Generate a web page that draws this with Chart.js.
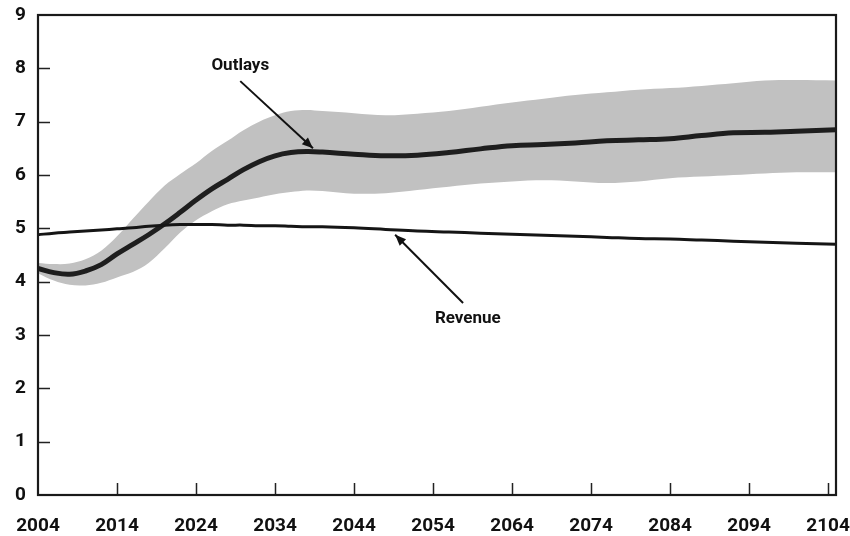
<!DOCTYPE html>
<html><head><meta charset="utf-8">
<script src="https://cdn.jsdelivr.net/npm/chart.js@4/dist/chart.umd.min.js"></script>
<style>html,body{margin:0;padding:0;background:#fff;}#wrap{width:850px;height:536px;}</style>
</head><body><div id="wrap"><canvas id="c" width="850" height="536"></canvas></div>
<script>
const years        = [2004,2006,2008,2010,2012,2014,2016,2018,2020,2022,2024,2026,2028,2030,2032,2034,2036,2038,2040,2044,2048,2052,2056,2060,2064,2068,2072,2076,2080,2084,2088,2092,2096,2100,2105];
const outlays      = [4.25,4.17,4.14,4.20,4.32,4.52,4.70,4.88,5.08,5.30,5.53,5.74,5.92,6.10,6.25,6.36,6.42,6.44,6.43,6.39,6.36,6.37,6.42,6.49,6.55,6.57,6.60,6.64,6.66,6.68,6.74,6.79,6.80,6.82,6.85];
const outlaysHigh  = [4.35,4.33,4.34,4.42,4.58,4.85,5.18,5.50,5.80,6.02,6.22,6.45,6.64,6.84,7.00,7.12,7.20,7.22,7.20,7.16,7.12,7.15,7.20,7.28,7.36,7.43,7.50,7.55,7.60,7.63,7.67,7.72,7.77,7.78,7.77];
const outlaysLow   = [4.16,4.02,3.94,3.93,3.98,4.08,4.18,4.35,4.62,4.92,5.15,5.32,5.45,5.52,5.58,5.64,5.68,5.71,5.70,5.65,5.66,5.72,5.78,5.84,5.88,5.90,5.88,5.85,5.88,5.94,5.97,6.00,6.03,6.05,6.05];
const revenue      = [4.88,4.91,4.93,4.95,4.97,4.99,5.01,5.04,5.06,5.07,5.07,5.07,5.06,5.06,5.05,5.05,5.04,5.03,5.03,5.01,4.98,4.95,4.93,4.91,4.89,4.87,4.85,4.83,4.81,4.80,4.78,4.76,4.74,4.72,4.70];
const xTicks = [2004,2014,2024,2034,2044,2054,2064,2074,2084,2094,2104];
const yTicks = [0,1,2,3,4,5,6,7,8,9];
const seriesNames = ['Outlays','Revenue'];
// annotation anchors in data units [year, value]
const outlaysNote = {text: seriesNames[0], label: [2029.6, 8.04], from: [2029.6, 7.76], to: [2038.8, 6.50]};
const revenueNote = {text: seriesNames[1], label: [2058.4, 3.30], from: [2057.8, 3.60], to: [2049.2, 4.88]};

const pts = arr => years.map((y, i) => ({x: y, y: arr[i]}));
const FONT = 'Roboto, "Liberation Sans", sans-serif';

const decor = {
  id: 'decor',
  afterDraw(chart) {
    const ctx = chart.ctx, a = chart.chartArea;
    const xs = chart.scales.x, ys = chart.scales.y;
    ctx.save();
    ctx.strokeStyle = '#222';
    ctx.lineWidth = 1.5;
    ctx.beginPath();
    yTicks.forEach(v => { if (v > 0 && v < 9) { const p = Math.round(ys.getPixelForValue(v)) + 0.5; ctx.moveTo(a.left, p); ctx.lineTo(a.left + 12, p); } });
    xTicks.forEach(v => { if (v > 2004) { const p = Math.round(xs.getPixelForValue(v)) + 0.5; ctx.moveTo(p, a.bottom); ctx.lineTo(p, a.bottom - 12); } });
    ctx.stroke();
    ctx.lineWidth = 2.2;
    ctx.strokeStyle = '#1a1a1a';
    ctx.strokeRect(a.left, a.top, a.right - a.left, a.bottom - a.top);
    [outlaysNote, revenueNote].forEach(n => {
      const lx = xs.getPixelForValue(n.label[0]), ly = ys.getPixelForValue(n.label[1]);
      ctx.fillStyle = '#111';
      ctx.font = 'bold 17px ' + FONT;
      ctx.textAlign = 'center';
      ctx.textBaseline = 'middle';
      ctx.fillText(n.text, lx, ly);
      const x1 = xs.getPixelForValue(n.from[0]), y1 = ys.getPixelForValue(n.from[1]);
      const x2 = xs.getPixelForValue(n.to[0]), y2 = ys.getPixelForValue(n.to[1]);
      ctx.strokeStyle = '#111';
      ctx.lineWidth = 2;
      ctx.beginPath(); ctx.moveTo(x1, y1); ctx.lineTo(x2, y2); ctx.stroke();
      const ang = Math.atan2(y2 - y1, x2 - x1), L = 11, W = 4.5;
      ctx.beginPath();
      ctx.moveTo(x2, y2);
      ctx.lineTo(x2 - L * Math.cos(ang) + W * Math.sin(ang), y2 - L * Math.sin(ang) - W * Math.cos(ang));
      ctx.lineTo(x2 - L * Math.cos(ang) - W * Math.sin(ang), y2 - L * Math.sin(ang) + W * Math.cos(ang));
      ctx.closePath(); ctx.fill();
    });
    ctx.restore();
  }
};

new Chart(document.getElementById('c'), {
  type: 'line',
  data: {
    datasets: [
      {label: 'high', data: pts(outlaysHigh), borderWidth: 0, pointRadius: 0, fill: '+1', backgroundColor: '#c1c1c1', tension: 0.35, order: 10},
      {label: 'low', data: pts(outlaysLow), borderWidth: 0, pointRadius: 0, fill: false, tension: 0.35, order: 9},
      {label: seriesNames[0], data: pts(outlays), borderColor: '#1e1e1e', borderWidth: 5, pointRadius: 0, fill: false, tension: 0.4, order: 1},
      {label: seriesNames[1], data: pts(revenue), borderColor: '#151515', borderWidth: 3, pointRadius: 0, fill: false, tension: 0.4, order: 0}
    ]
  },
  options: {
    responsive: false, animation: false, devicePixelRatio: 1,
    layout: {padding: {top: 15, right: 14, left: 0, bottom: 0}},
    plugins: {legend: {display: false}, tooltip: {enabled: false}, filler: {drawTime: 'beforeDatasetsDraw'}},
    scales: {
      x: {
        type: 'linear', min: 2004, max: 2105,
        afterBuildTicks: s => { s.ticks = xTicks.map(v => ({value: v})); },
        afterFit: s => { s.height = 41; s.paddingLeft = 0; s.paddingRight = 0; },
        grid: {display: false, drawTicks: false}, border: {display: false},
        ticks: {autoSkip: false, maxRotation: 0, padding: 20, color: '#111', font: {family: FONT, size: 19, weight: 'bold'}, callback: v => String(v)}
      },
      y: {
        min: 0, max: 9,
        afterBuildTicks: s => { s.ticks = yTicks.map(v => ({value: v})); },
        afterFit: s => { s.width = 38; s.paddingTop = 0; s.paddingBottom = 0; },
        grid: {display: false, drawTicks: false}, border: {display: false},
        ticks: {padding: 12, color: '#111', font: {family: FONT, size: 19, weight: 'bold'}}
      }
    }
  },
  plugins: [decor]
});
</script></body></html>
